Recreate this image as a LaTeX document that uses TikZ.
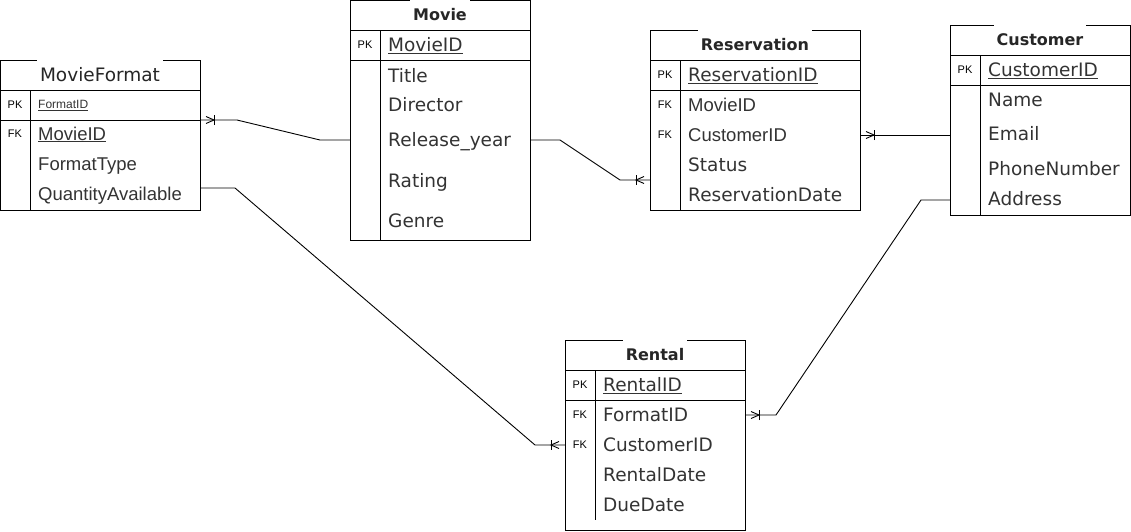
\documentclass[tikz,border=0pt]{standalone}
\usepackage{fontspec}
\setmainfont{DejaVu Sans}
\newfontfamily\arialfont{Liberation Sans}
\usetikzlibrary{calc}

\tikzset{
	tbl/.style={line width=0.9pt, draw=black},
	ttl/.style={fill=white, inner xsep=3pt, inner ysep=0pt, minimum height=31pt, text=black!85, font=\fontsize{16}{16}\selectfont\bfseries},
	fld/.style={anchor=base west, inner sep=0pt, text=black!80, font=\fontsize{18.5}{18.5}\selectfont},
	afld/.style={fld, font=\arialfont\fontsize{18.5}{18.5}\selectfont},
	key/.style={anchor=base, inner sep=0pt, text=black, font=\arialfont\fontsize{11}{11}\selectfont},
	rel/.style={line width=0.9pt, draw=black},
	crowfoot/.pic={
		\draw[rel] (6,3.5) -- (14,0) -- (6,-3.5);
		\draw[rel] (14,5) -- (14,-5);
	}
}

\begin{document}
\begin{tikzpicture}[x=1pt, y=-1pt]
			\useasboundingbox (0,0) rectangle (1131,531);
			%%%%% START %%%%%
			
			% MovieFormat
			\draw[tbl] (0.5,60) rectangle (200,210);
			\node[ttl, font=\fontsize{18.5}{18.5}\selectfont] (mf) at (100,75) {MovieFormat};
			\draw[tbl] (0.5,90) -- (200,90);
			\draw[tbl] (0.5,120) -- (200,120);
			\draw[tbl] (30,90) -- (30,210);
			\node[key] (mf-pk) at (15,108.5) {PK};
			\node[afld, font=\arialfont\fontsize{12}{12}\selectfont] (mf-formatid) at (38,108.5) {\underline{FormatID}};
			\node[key] (mf-fk) at (15,137) {FK};
			\node[afld] (mf-movieid) at (38,140) {\underline{MovieID}};
			\node[afld] (mf-formattype) at (38,170) {FormatType};
			\node[afld] (mf-quantity) at (38,200) {QuantityAvailable};
			
			% Movie
			\draw[tbl] (350,0.5) rectangle (530,240);
			\node[ttl] (mv) at (440,15) {Movie};
			\draw[tbl] (350,30) -- (530,30);
			\draw[tbl] (350,60) -- (530,60);
			\draw[tbl] (380,30) -- (380,240);
			\node[key] (mv-pk) at (365,48.5) {PK};
			\node[fld] (mv-movieid) at (388,51.5) {\underline{MovieID}};
			\node[fld] (mv-title) at (388,82) {Title};
			\node[fld] (mv-director) at (388,111) {Director};
			\node[fld] (mv-year) at (388,146.5) {Release\_year};
			\node[fld] (mv-rating) at (388,187) {Rating};
			\node[fld] (mv-genre) at (388,227) {Genre};
			
			% Reservation
			\draw[tbl] (650,30) rectangle (860,210);
			\node[ttl] (rs) at (755,45) {Reservation};
			\draw[tbl] (650,60) -- (860,60);
			\draw[tbl] (650,90) -- (860,90);
			\draw[tbl] (680,60) -- (680,210);
			\node[key] (rs-pk) at (665,78.5) {PK};
			\node[fld] (rs-resid) at (688,81.7) {\underline{ReservationID}};
			\node[key] (rs-fk1) at (665,108.5) {FK};
			\node[afld] (rs-movieid) at (688,111.7) {MovieID};
			\node[key] (rs-fk2) at (665,138.5) {FK};
			\node[afld] (rs-custid) at (688,141.7) {CustomerID};
			\node[fld] (rs-status) at (688,171.7) {Status};
			\node[fld] (rs-date) at (688,201.7) {ReservationDate};
			
			% Customer
			\draw[tbl] (950,25) rectangle (1130.5,215);
			\node[ttl] (cu) at (1040,40) {Customer};
			\draw[tbl] (950,55) -- (1130.5,55);
			\draw[tbl] (950,85) -- (1130.5,85);
			\draw[tbl] (980,55) -- (980,215);
			\node[key] (cu-pk) at (965,73.5) {PK};
			\node[fld] (cu-custid) at (988,76.7) {\underline{CustomerID}};
			\node[fld] (cu-name) at (988,106.7) {Name};
			\node[fld] (cu-email) at (988,140.7) {Email};
			\node[fld] (cu-phone) at (988,175) {PhoneNumber};
			\node[fld] (cu-address) at (988,205) {Address};
			
			% Rental
			\draw[tbl] (565,340) rectangle (745,530);
			\node[ttl] (rn) at (655,355) {Rental};
			\draw[tbl] (565,370) -- (745,370);
			\draw[tbl] (565,400) -- (745,400);
			\draw[tbl] (595,370) -- (595,520);
			\node[key] (rn-pk) at (580,388.5) {PK};
			\node[fld] (rn-rentalid) at (603,391.7) {\underline{RentalID}};
			\node[key] (rn-fk1) at (580,418.5) {FK};
			\node[fld] (rn-formatid) at (603,421.7) {FormatID};
			\node[key] (rn-fk2) at (580,448.5) {FK};
			\node[fld] (rn-custid) at (603,451.7) {CustomerID};
			\node[fld] (rn-date) at (603,481.7) {RentalDate};
			\node[fld] (rn-due) at (603,511.7) {DueDate};
			
			% connector ends
			\coordinate (mf-e1) at (200,120);
			\coordinate (mf-e2) at (200,188);
			\coordinate (mv-w) at (350,140);
			\coordinate (mv-e) at (530,140);
			\coordinate (rs-w) at (650,180);
			\coordinate (rs-e) at (860,135);
			\coordinate (cu-w1) at (950,135);
			\coordinate (cu-w2) at (950,200);
			\coordinate (rn-w) at (565,445);
			\coordinate (rn-e) at (745,415);
			
			% relations
			\draw[rel] (mf-e1) -- (237,120) -- (320,140) -- (mv-w);
			\pic at (mf-e1) {crowfoot};
			
			\draw[rel] (mv-e) -- (560,140) -- (620,180) -- (rs-w);
			\pic[rotate=180] at (rs-w) {crowfoot};
			
			\draw[rel] (cu-w1) -- (rs-e);
			\pic at (rs-e) {crowfoot};
			
			\draw[rel] (mf-e2) -- (235,188) -- (535,445) -- (rn-w);
			\pic[rotate=180] at (rn-w) {crowfoot};
			
			\draw[rel] (cu-w2) -- (921,200) -- (776,415) -- (rn-e);
			\pic at (rn-e) {crowfoot};
			
			%%%%% END %%%%%
\end{tikzpicture}
\end{document}
